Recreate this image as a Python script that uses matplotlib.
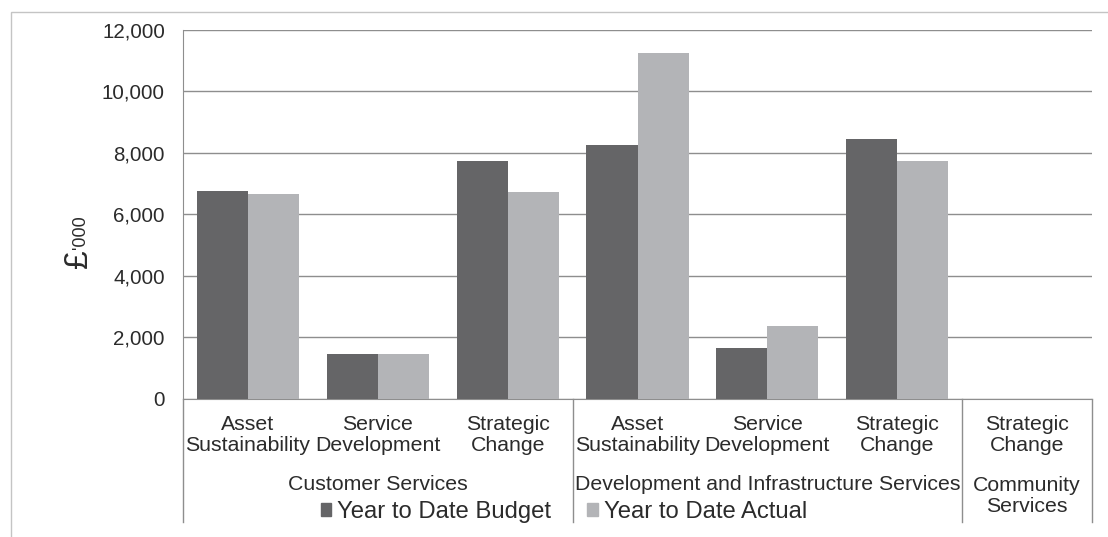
import numpy as np
import matplotlib
matplotlib.use('Agg')
import matplotlib.pyplot as plt
from matplotlib.patches import Rectangle, Patch

plt.rcParams['font.family'] = ['Liberation Sans', 'DejaVu Sans']

# data (£'000)
subCategories = ['Asset\nSustainability', 'Service\nDevelopment', 'Strategic\nChange',
                 'Asset\nSustainability', 'Service\nDevelopment', 'Strategic\nChange',
                 'Strategic\nChange']
groups = ['Customer Services', 'Development and Infrastructure Services', 'Community\nServices']
groupSizes = [3, 3, 1]
budget = [6770, 1450, 7720, 8240, 1640, 8460, 0]
actual = [6660, 1450, 6740, 11240, 2370, 7750, 0]

darkGrey = '#656567'
lightGrey = '#b3b4b7'
textCol = '#2b2b2b'
lineCol = '#8e8e8e'

W, H = 1108, 537
fig = plt.figure(figsize=(W / 100, H / 100), dpi=100)
ax = fig.add_axes([183 / W, 1 - 398.5 / H, (1092 - 183) / W, (398.5 - 30) / H])

x = np.arange(len(subCategories))
bw = 0.393
ax.bar(x - bw / 2, budget, bw, color=darkGrey, label='Year to Date Budget', zorder=3)
ax.bar(x + bw / 2, actual, bw, color=lightGrey, label='Year to Date Actual', zorder=3)

ax.set_xlim(-0.5, len(subCategories) - 0.5)
ax.set_ylim(0, 12000)
ax.set_yticks(np.arange(0, 12001, 2000))
ax.set_yticklabels(['{:,}'.format(v) for v in range(0, 12001, 2000)])
ax.tick_params(axis='y', length=0, pad=13, labelsize=14.8, labelcolor=textCol)
ax.set_xticks([])
ax.grid(axis='y', color=lineCol, lw=1, zorder=0)
for s in ['top', 'right']:
    ax.spines[s].set_visible(False)
ax.spines['left'].set_color(lineCol)
ax.spines['bottom'].set_color(lineCol)

# multi-level category labels
trans = ax.get_xaxis_transform()
pxToAx = 1 / (398.5 - 30)
for i, lab in enumerate(subCategories):
    ax.text(i, -(435 - 398.5) * pxToAx, lab, transform=trans, ha='center', va='center',
            fontsize=15.3, color=textCol, linespacing=1.12)

start = 0
bounds = [-0.5]
for g, n in zip(groups, groupSizes):
    centre = start + (n - 1) / 2
    yPix = 485 if '\n' not in g else 496
    ax.text(centre, -(yPix - 398.5) * pxToAx, g, transform=trans, ha='center', va='center',
            fontsize=15.3, color=textCol, linespacing=1.12)
    start += n
    bounds.append(start - 0.5)

for b in bounds:
    ax.plot([b, b], [0, -(522 - 398.5) * pxToAx], transform=trans, color=lineCol,
            lw=1, clip_on=False)

# y label: large pound sign with small '000
fig.text(79 / W, 1 - 259 / H, '£', rotation=90, fontsize=24, ha='center', va='center', color=textCol)
fig.text(81 / W, 1 - 232 / H, "'000", rotation=90, fontsize=13, ha='center', va='center', color=textCol)

# legend
handles = [Patch(color=darkGrey), Patch(color=lightGrey)]
fig.legend(handles, ['Year to Date Budget', 'Year to Date Actual'], loc='center',
           bbox_to_anchor=(564 / W, 1 - 512 / H), ncol=2, frameon=False, fontsize=17.2,
           handlelength=0.45, handleheight=0.45, handletextpad=0.25, columnspacing=1.5,
           labelcolor=textCol)

# outer frame
fig.patches.append(Rectangle((11 / W, -0.05), 1.1, 1 - 12 / H + 0.05, transform=fig.transFigure,
                             fill=False, edgecolor='#c4c4c4', lw=1))

fig.savefig('out.png', dpi=100)
